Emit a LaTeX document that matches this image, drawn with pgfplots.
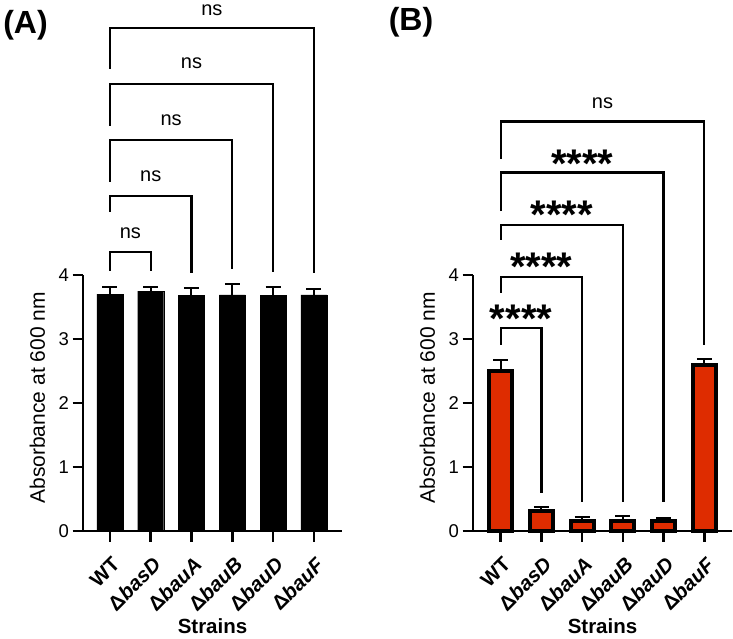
\documentclass[border=0pt]{standalone}
\usepackage{fontspec}
\setmainfont{Liberation Sans}
\usepackage{pgfplots}
\pgfplotsset{compat=1.18}
\definecolor{barred}{RGB}{222,44,0}

\pgfplotsset{
  panel/.style={
    scale only axis, width=259pt, height=256pt,
    axis lines=left, axis line style={-, line width=2.5pt},
    ymin=0, ymax=4, ytick={0,1,2,3,4},
    xtick={0,...,5},
    xticklabels={WT, Δ\textit{basD}, Δ\textit{bauA}, Δ\textit{bauB}, Δ\textit{bauD}, Δ\textit{bauF}},
    tick align=outside, major tick length=10.5pt,
    tick style={line width=2.5pt, black},
    clip=false,
    /pgf/number format/assume math mode=true,
    yticklabel style={font=\fontsize{18.5}{20}\selectfont},
    xticklabel style={font=\fontsize{20.5}{22}\selectfont\bfseries, xshift=1pt, yshift=-14pt, rotate=45, anchor=north east, inner sep=0pt},
    ylabel={Absorbance at 600 nm},
    ylabel style={font=\fontsize{21}{23}\selectfont, at={(axis description cs:-0.176,0.52)}, anchor=center},
    xlabel={Strains},
    xlabel style={font=\fontsize{20.5}{22}\selectfont\bfseries, at={(axis description cs:0.5,-0.371)}, anchor=center},
    error bars/error bar style={line width=2pt, black},
    error bars/error mark options={rotate=90, line width=2pt, mark size=7.5pt, black},
  },
}
\tikzset{
  brk/.style={line width=2.3pt, black},
  ns/.style={font=\fontsize{20}{22}\selectfont, anchor=center},
  stars/.style={font=\fontsize{40}{42}\selectfont\bfseries, anchor=base, yshift=-22pt},
}

\begin{document}
\begin{tikzpicture}
\useasboundingbox (0,0) rectangle (733pt,-638pt);

\node[font=\fontsize{32}{34}\selectfont\bfseries] at (25.5pt,-25pt) {(A)};
\node[font=\fontsize{32}{34}\selectfont\bfseries] at (411pt,-22.5pt) {(B)};

% panel A
\begin{axis}[panel, at={(83pt,-531pt)}, anchor=south west, xmin=-0.66, xmax=5.69]
\addplot[ybar, bar width=26pt, fill=black, draw=black,
  error bars/.cd, y dir=plus, y explicit] coordinates {
  (0,3.70) +- (0,0.11)
  (1,3.75) +- (0,0.06)
  (2,3.68) +- (0,0.11)
  (3,3.69) +- (0,0.17)
  (4,3.68) +- (0,0.13)
  (5,3.69) +- (0,0.09)
};
\draw[brk] (axis cs:0,4.07) -- (axis cs:0,4.355) -- (axis cs:1,4.355) -- (axis cs:1,4.07);
\node[ns] at (axis cs:0.5,4.66) {ns};
\draw[brk] (axis cs:0,4.99) -- (axis cs:0,5.23) -- (axis cs:2,5.23) -- (axis cs:2,4.03);
\node[ns] at (axis cs:1,5.54) {ns};
\draw[brk] (axis cs:0,5.46) -- (axis cs:0,6.11) -- (axis cs:3,6.11) -- (axis cs:3,4.10);
\node[ns] at (axis cs:1.5,6.42) {ns};
\draw[brk] (axis cs:0,6.33) -- (axis cs:0,6.98) -- (axis cs:4,6.98) -- (axis cs:4,4.05);
\node[ns] at (axis cs:2,7.31) {ns};
\draw[brk] (axis cs:0,7.22) -- (axis cs:0,7.86) -- (axis cs:5,7.86) -- (axis cs:5,4.03);
\node[ns] at (axis cs:2.5,8.14) {ns};
\end{axis}

% panel B
\begin{axis}[panel, at={(473pt,-531pt)}, anchor=south west, xmin=-0.68, xmax=5.68]
\addplot[ybar, bar width=23pt, fill=barred, draw=black, line width=4pt,
  error bars/.cd, y dir=plus, y explicit] coordinates {
  (0,2.50) +- (0,0.17)
  (1,0.31) +- (0,0.06)
  (2,0.15) +- (0,0.07)
  (3,0.15) +- (0,0.08)
  (4,0.16) +- (0,0.05)
  (5,2.59) +- (0,0.09)
};
\draw[brk] (axis cs:0,2.91) -- (axis cs:0,3.17) -- (axis cs:1,3.17) -- (axis cs:1,0.60);
\node[stars] at (axis cs:0.5,3.45) {****};
\draw[brk] (axis cs:0,3.72) -- (axis cs:0,3.97) -- (axis cs:2,3.97) -- (axis cs:2,0.46);
\node[stars] at (axis cs:1,4.26) {****};
\draw[brk] (axis cs:0,4.55) -- (axis cs:0,4.78) -- (axis cs:3,4.78) -- (axis cs:3,0.46);
\node[stars] at (axis cs:1.5,5.07) {****};
\draw[brk] (axis cs:0,5.00) -- (axis cs:0,5.60) -- (axis cs:4,5.60) -- (axis cs:4,0.46);
\node[stars] at (axis cs:2,5.875) {****};
\draw[brk] (axis cs:0,5.82) -- (axis cs:0,6.40) -- (axis cs:5,6.40) -- (axis cs:5,2.91);
\node[ns] at (axis cs:2.5,6.69) {ns};
\end{axis}
\end{tikzpicture}
\end{document}
